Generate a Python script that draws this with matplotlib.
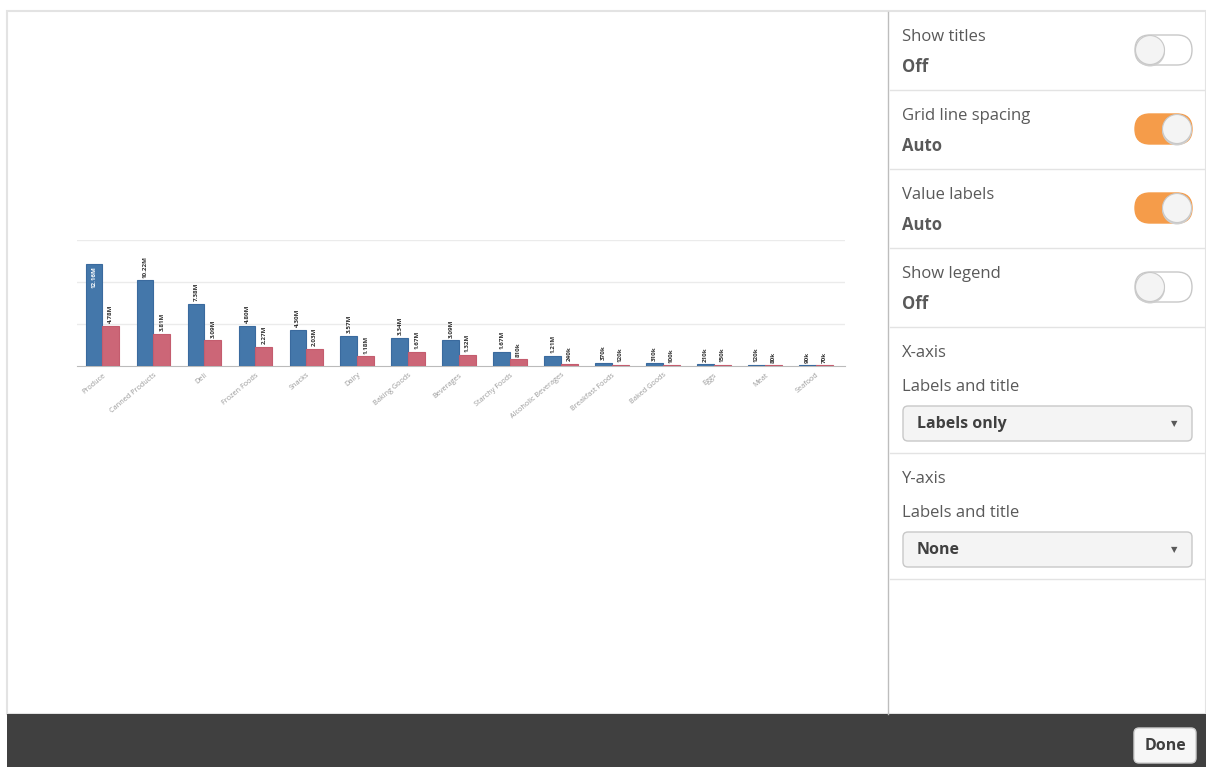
import matplotlib.pyplot as plt
from matplotlib.patches import FancyBboxPatch, Circle, Rectangle
import numpy as np

plt.rcParams['font.family'] = ['Open Sans', 'DejaVu Sans']

categories = ['Produce', 'Canned Products', 'Deli', 'Frozen Foods', 'Snacks', 'Dairy',
              'Baking Goods', 'Beverages', 'Starchy Foods', 'Alcoholic Beverages',
              'Breakfast Foods', 'Baked Goods', 'Eggs', 'Meat', 'Seafood']
sales = [12.16, 10.22, 7.38, 4.80, 4.30, 3.57, 3.34, 3.09, 1.67, 1.21,
         0.37, 0.31, 0.21, 0.12, 0.09]
cost = [4.78, 3.81, 3.09, 2.27, 2.03, 1.18, 1.67, 1.32, 0.81, 0.24,
        0.12, 0.10, 0.15, 0.08, 0.07]

settings = [('Show titles', 'Off', False), ('Grid line spacing', 'Auto', True),
            ('Value labels', 'Auto', True), ('Show legend', 'Off', False)]
axis_settings = [('X-axis', 'Labels only'), ('Y-axis', 'None')]

fig = plt.figure(figsize=(12.06, 7.67), dpi=100)

# UI layer in pixel coordinates
ui = fig.add_axes([0, 0, 1, 1])
ui.set_xlim(0, 1206)
ui.set_ylim(767, 0)
ui.axis('off')

ui.add_patch(Rectangle((7, 11), 1199, 703, facecolor='white', edgecolor='#e3e3e3', lw=1.5))
ui.plot([888, 888], [12, 714], color='#bdbdbd', lw=1)
ui.add_patch(Rectangle((7, 714), 1199, 53, facecolor='#404040', edgecolor='none'))

# Done button
ui.add_patch(FancyBboxPatch((1134, 728), 62, 35, boxstyle='round,pad=0,rounding_size=5',
                            facecolor='#f7f7f7', edgecolor='#cfcfcf', lw=1))
ui.text(1166, 746, 'Done', ha='center', va='center', fontsize=11.5, fontweight='bold',
        color='#404040')

# settings panel
fs = 12
row_h = 79
for i, (title, val, on) in enumerate(settings):
    y0 = 11 + i * row_h
    ui.text(902, y0 + 26, title, ha='left', va='center', fontsize=fs, color='#595959')
    ui.text(902, y0 + 56, val, ha='left', va='center', fontsize=fs, fontweight='bold',
            color='#595959')
    ui.plot([890, 1206], [y0 + row_h, y0 + row_h], color='#e3e3e3', lw=1)
    ty = y0 + 39
    ui.add_patch(FancyBboxPatch((1135, ty - 15), 57, 30,
                                boxstyle='round,pad=0,rounding_size=15',
                                facecolor='#f59c4a' if on else '#ffffff',
                                edgecolor='#f59c4a' if on else '#c8c8c8', lw=1))
    cx = 1177 if on else 1150
    ui.add_patch(Circle((cx, ty + 1.5), 15, facecolor='#cfcfcf', edgecolor='none'))
    ui.add_patch(Circle((cx, ty), 14.5, facecolor='#f4f4f4', edgecolor='#c8c8c8', lw=0.8))

for j, (title, val) in enumerate(axis_settings):
    y0 = 327 + j * 126
    ui.text(902, y0 + 26, title, ha='left', va='center', fontsize=fs, color='#595959')
    ui.text(902, y0 + 60, 'Labels and title', ha='left', va='center', fontsize=fs,
            color='#595959')
    ui.add_patch(FancyBboxPatch((903, y0 + 79), 289, 35,
                                boxstyle='round,pad=0,rounding_size=5',
                                facecolor='#f4f4f4', edgecolor='#c8c8c8', lw=1))
    ui.text(917, y0 + 97, val, ha='left', va='center', fontsize=11.5, fontweight='bold',
            color='#404040')
    ui.text(1174, y0 + 97, '▼', ha='center', va='center', fontsize=6, color='#595959',
            family='DejaVu Sans')
    ui.plot([890, 1206], [y0 + 126, y0 + 126], color='#e3e3e3', lw=1)

# chart
ax = fig.add_axes([77 / 1206, 1 - 366 / 767, (845 - 77) / 1206, 126 / 767])
ax.patch.set_alpha(0)
x = np.arange(len(categories))
w = 0.33
ax.bar(x - w / 2, sales, w, color='#4477aa', edgecolor='#3a6a9e', lw=0.8, zorder=3)
ax.bar(x + w / 2, cost, w, color='#cc6677', edgecolor='#c45c6e', lw=0.8, zorder=3)

for xi, v in zip(x, sales):
    lab = f'{v:.2f}M' if v >= 1 else f'{v * 1000:.0f}k'
    if v > 11:
        ax.text(xi - w / 2, v - 0.3, lab, rotation=90, ha='center', va='top', fontsize=4.5,
                color='white', fontweight='bold', zorder=4)
    else:
        ax.text(xi - w / 2, v + 0.3, lab, rotation=90, ha='center', va='bottom', fontsize=4.5,
                color='#333333', fontweight='bold', zorder=4)
for xi, v in zip(x, cost):
    lab = f'{v:.2f}M' if v >= 1 else f'{v * 1000:.0f}k'
    ax.text(xi + w / 2, v + 0.3, lab, rotation=90, ha='center', va='bottom', fontsize=4.5,
            color='#333333', fontweight='bold', zorder=4)

ax.set_xlim(-0.5, 14.57)
ax.set_ylim(0, 15)
ax.set_yticks([5, 10, 15])
ax.yaxis.grid(True, color='#ebebeb', lw=1)
ax.tick_params(axis='y', left=False, labelleft=False)
ax.set_xticks(x)
ax.set_xticklabels(categories, rotation=40, ha='right', rotation_mode='anchor',
                   fontsize=5.2, color='#999999')
ax.tick_params(axis='x', length=0, pad=4)
for s in ['top', 'right', 'left']:
    ax.spines[s].set_visible(False)
ax.spines['bottom'].set_color('#bbbbbb')
ax.set_axisbelow(True)

fig.savefig('out.png', dpi=100)
